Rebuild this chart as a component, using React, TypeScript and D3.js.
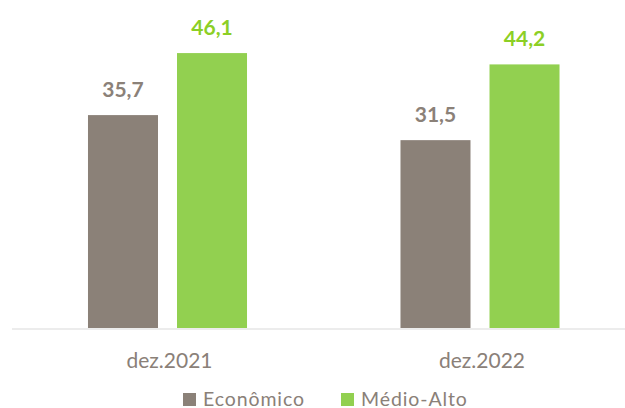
import React from "react";
import * as d3 from "d3";

const categories = ["dez.2021", "dez.2022"];
const seriesNames = ["Econômico", "Médio-Alto"];
const economico = [35.7, 31.5];
const medioAlto = [46.1, 44.2];
const seriesValues = [economico, medioAlto];

const barColors = ["#8B8178", "#92D050"];
const labelColors = ["#8B8178", "#8CCF25"];
const textGrey = "#8A8078";

const W = 625;
const H = 408;
const baseY = 328;

export default function App() {
  const x = d3.scaleBand<string>().domain(categories).range([11.25, 636.25]).padding(0);
  const inner = d3
    .scaleBand<string>()
    .domain(seriesNames)
    .range([0, x.bandwidth()])
    .paddingInner(0.2135)
    .paddingOuter(0.862);
  const y = d3.scaleLinear().domain([0, 55]).range([baseY, 0]);
  const fmt = (v: number) => d3.format(".1f")(v).replace(".", ",");

  return (
    <svg
      width={W}
      height={H}
      style={{ position: "absolute", left: 0, top: 0, background: "#fff" }}
      fontFamily="Lato, 'Open Sans', sans-serif"
    >
      <rect width={W} height={H} fill="#fff" />
      {categories.map((c, ci) => (
        <g key={c} transform={`translate(${x(c)},0)`}>
          {seriesNames.map((s, si) => {
            const v = seriesValues[si][ci];
            const bx = inner(s) as number;
            const bw = inner.bandwidth();
            return (
              <g key={s}>
                <rect x={bx} y={y(v)} width={bw} height={baseY - y(v)} fill={barColors[si]} />
                <text
                  x={bx + bw / 2}
                  y={y(v) - 18}
                  textAnchor="middle"
                  fontWeight={700}
                  fontSize={21}
                  fill={labelColors[si]}
                >
                  {fmt(v)}
                </text>
              </g>
            );
          })}
          <text
            x={x.bandwidth() / 2 + 2}
            y={368}
            textAnchor="middle"
            fontSize={21}
            fill={textGrey}
          >
            {c}
          </text>
        </g>
      ))}
      <line x1={12} x2={625} y1={329} y2={329} stroke="#D9D9D9" strokeWidth={1.2} />
      {seriesNames.map((s, si) => {
        const lx = [183, 341][si];
        return (
          <g key={s}>
            <rect x={lx} y={393} width={13} height={13} fill={barColors[si]} />
            <text x={lx + 20} y={405.5} fontSize={19.5} letterSpacing={0.9} fill={textGrey}>
              {s}
            </text>
          </g>
        );
      })}
    </svg>
  );
}
